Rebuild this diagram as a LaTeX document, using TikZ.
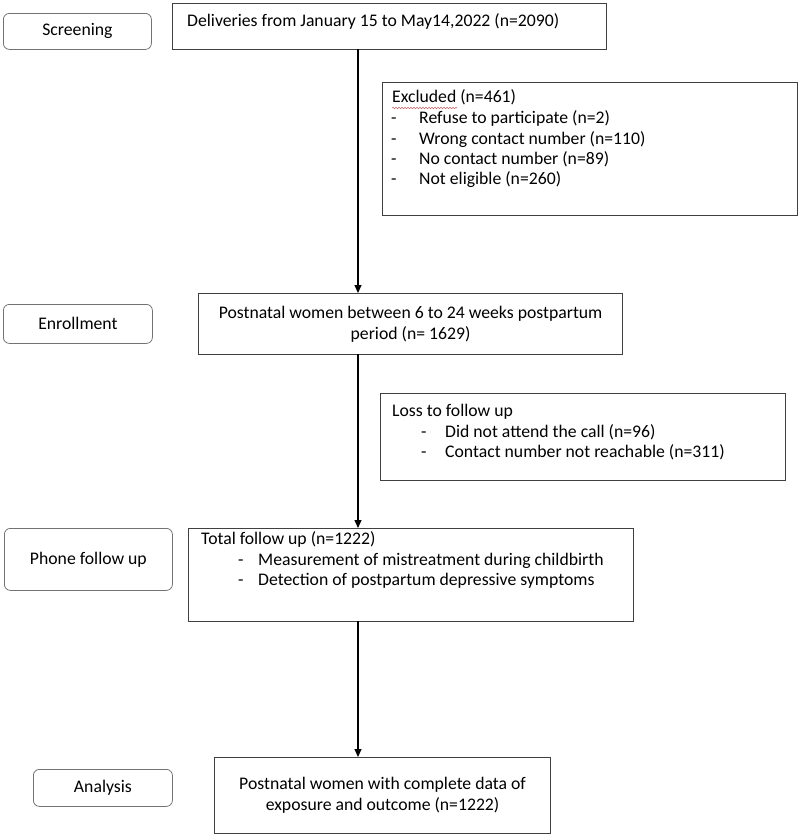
\documentclass[tikz,border=0pt]{standalone}
\usepackage{fontspec}
\setmainfont{Carlito}
\usetikzlibrary{arrows.meta,decorations.pathmorphing}
\begin{document}
\begin{tikzpicture}[x=1pt,y=-1pt,
  box/.style={draw=black!75, line width=1.1pt, rectangle, inner sep=0pt, anchor=north west},
  stage/.style={draw=black!55, line width=0.8pt, rounded corners=6pt, inner sep=0pt, anchor=north west},
  flow/.style={-{Triangle[length=8pt,width=7pt]}, line width=1.1pt},
  txt/.style={font=\fontsize{17.7}{21}\selectfont, inner sep=0pt},
  ltxt/.style={txt, anchor=west, text height=12pt, text depth=3.5pt},
  ctxt/.style={txt, align=center}]
\useasboundingbox (0,0) rectangle (800,836);

% stage labels
\node[stage, minimum width=148pt, minimum height=36pt] (s1) at (3,13) {};
\node[ctxt] (s1t) at (s1.center) {Screening};
\node[stage, minimum width=149pt, minimum height=39pt] (s2) at (3,304) {};
\node[ctxt] (s2t) at (s2.center) {Enrollment};
\node[stage, minimum width=168pt, minimum height=62pt] (s3) at (4,528) {};
\node[ctxt] (s3t) at (s3.center) {Phone follow up};
\node[stage, minimum width=139pt, minimum height=37pt] (s4) at (33,769) {};
\node[ctxt] (s4t) at (s4.center) {Analysis};

% main boxes
\node[box, minimum width=434pt, minimum height=46pt] (b1) at (172,3) {};
\node[ltxt] (b1t) at (187,22) {Deliveries from January 15 to May14,2022 (n=2090)};

\node[box, minimum width=415pt, minimum height=133pt] (ex) at (382,82) {};
\node[ltxt] (ex0) at (392,98) {Excluded (n=461)};
\node[ltxt] (ex1) at (391,119) {-};
\node[ltxt] (ex1t) at (419,119) {Refuse to participate (n=2)};
\node[ltxt] (ex2) at (391,140) {-};
\node[ltxt] (ex2t) at (419,140) {Wrong contact number (n=110)};
\node[ltxt] (ex3) at (391,160) {-};
\node[ltxt] (ex3t) at (419,160) {No contact number (n=89)};
\node[ltxt] (ex4) at (391,180) {-};
\node[ltxt] (ex4t) at (419,180) {Not eligible (n=260)};
\draw[red!60!black!60, line width=0.5pt, decorate, decoration={snake, amplitude=0.8pt, segment length=3pt}]
  (392,108) -- (457,108);

\node[box, minimum width=424pt, minimum height=61pt] (b2) at (198,293) {};
\node[ctxt] (b2t) at (b2.center) {Postnatal women between 6 to 24 weeks postpartum\\period (n= 1629)};

\node[box, minimum width=405pt, minimum height=87pt] (lo) at (380,393) {};
\node[ltxt] (lo0) at (392,412) {Loss to follow up};
\node[ltxt] (lo1) at (421,433) {-};
\node[ltxt] (lo1t) at (445,433) {Did not attend the call (n=96)};
\node[ltxt] (lo2) at (421,453) {-};
\node[ltxt] (lo2t) at (445,453) {Contact number not reachable (n=311)};

\node[box, minimum width=445pt, minimum height=93pt] (b3) at (188,528) {};
\node[ltxt] (b3t) at (201,540) {Total follow up (n=1222)};
\node[ltxt] (b31) at (238,561) {-};
\node[ltxt] (b31t) at (258,561) {Measurement of mistreatment during childbirth};
\node[ltxt] (b32) at (238,581) {-};
\node[ltxt] (b32t) at (258,581) {Detection of postpartum depressive symptoms};

\node[box, minimum width=336pt, minimum height=76pt] (b4) at (214,757) {};
\node[ctxt] (b4t) at (b4.center) {Postnatal women with complete data of\\exposure and outcome (n=1222)};

% connectors
\draw[flow] (358,49) coordinate (a1) -- (358,293) coordinate (a2);
\draw[flow] (358,354) coordinate (a3) -- (358,528) coordinate (a4);
\draw[flow] (358,621) coordinate (a5) -- (358,757) coordinate (a6);
\end{tikzpicture}
\end{document}
